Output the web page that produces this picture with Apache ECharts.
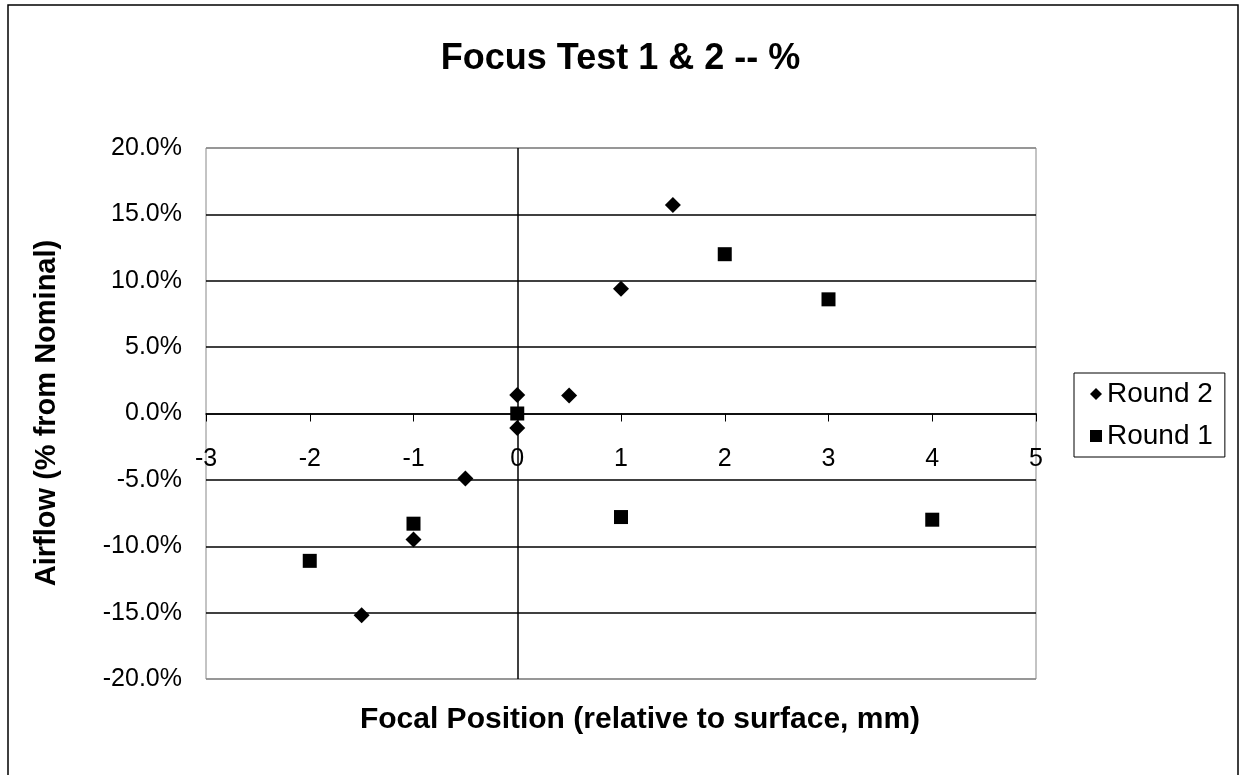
<!DOCTYPE html>
<html>
<head>
<meta charset="utf-8">
<script src="https://cdn.jsdelivr.net/npm/echarts@6/dist/echarts.min.js"></script>
<style>
  html, body { margin: 0; padding: 0; background: #fff; }
  #chart { width: 1241px; height: 775px; }
</style>
</head>
<body>
<div id="chart"></div>
<script>
// Round 2 (diamonds)
var round2X = [-1.5, -1, -0.5, 0, 0, 0.5, 1, 1.5];
var round2Y = [-15.2, -9.5, -4.9, -1.1, 1.4, 1.35, 9.4, 15.7];
// Round 1 (squares)
var round1X = [-2, -1, 0, 1, 2, 3, 4];
var round1Y = [-11.1, -8.3, 0, -7.8, 12.0, 8.6, -8.0];

var xMin = -3, xMax = 5, xStep = 1;
var yMin = -20, yMax = 20, yStep = 5;

var FONT = "'Liberation Sans', Arial, sans-serif";

// grid box in pixels
var GRID_TOP = 148, GRID_BOTTOM = 96, GRID_LEFT = 206, GRID_RIGHT = 205;
var GRID_H = 775 - GRID_TOP - GRID_BOTTOM;

function zipPts(xs, ys) {
  var out = [];
  for (var i = 0; i < xs.length; i++) out.push([xs[i], ys[i]]);
  return out;
}

// plot border lines (top/bottom) grey, inner grid lines black
var splitColors = [];
for (var v = yMin; v <= yMax; v += yStep) {
  splitColors.push(v === yMin || v === yMax ? '#888' : '#000');
}

// x axis sits on y = 0 with its labels (Excel style)
var xAxisOffset = -GRID_H * (0 - yMin) / (yMax - yMin);

var chart = echarts.init(document.getElementById('chart'));
var option = {
  backgroundColor: '#fff',
  animation: false,
  title: {
    text: 'Focus Test 1 & 2 -- %',
    left: 'center',
    top: 36,
    textStyle: { fontFamily: FONT, fontSize: 36, fontWeight: 'bold', color: '#000' }
  },
  grid: {
    left: GRID_LEFT, top: GRID_TOP, right: GRID_RIGHT, bottom: GRID_BOTTOM,
    show: true, borderColor: '#888', borderWidth: 1, backgroundColor: '#fff'
  },
  legend: {
    orient: 'vertical',
    left: 1074, top: 373,
    padding: [6, 12, 6, 16],
    itemGap: 12,
    itemWidth: 12, itemHeight: 12,
    borderColor: '#000', borderWidth: 1, borderRadius: 0,
    textStyle: { fontFamily: FONT, fontSize: 28, color: '#000', lineHeight: 30 },
    itemStyle: { opacity: 1 },
    data: [
      { name: 'Round 2', icon: 'diamond' },
      { name: 'Round 1', icon: 'rect' }
    ]
  },
  xAxis: {
    type: 'value',
    position: 'bottom',
    offset: xAxisOffset,
    min: xMin, max: xMax, interval: xStep,
    axisLine: { show: true, onZero: false, lineStyle: { color: '#000', width: 1.5 } },
    axisTick: { show: true, inside: false, length: 8, lineStyle: { color: '#000', width: 1 } },
    axisLabel: { margin: 33, fontFamily: FONT, fontSize: 25, color: '#000' },
    splitLine: { show: false }
  },
  yAxis: {
    type: 'value',
    min: yMin, max: yMax, interval: yStep,
    axisLine: { show: false, onZero: false },
    axisTick: { show: false },
    axisLabel: {
      margin: 24, fontFamily: FONT, fontSize: 25, color: '#000',
      formatter: function (v) { return v.toFixed(1) + '%'; }
    },
    splitLine: { show: true, lineStyle: { color: splitColors, width: 1.5 } }
  },
  graphic: [
    {
      type: 'rect', z: -10, silent: true,
      shape: { x: 8, y: 5, width: 1230, height: 800 },
      style: { fill: 'none', stroke: '#000', lineWidth: 1.5 }
    },
    {
      type: 'text', x: 47, y: 413, rotation: Math.PI / 2,
      style: {
        text: 'Airflow (% from Nominal)', fontFamily: FONT, fontSize: 29,
        fontWeight: 'bold', fill: '#000', align: 'center', verticalAlign: 'middle'
      }
    },
    {
      type: 'text', x: 640, y: 720,
      style: {
        text: 'Focal Position (relative to surface, mm)', fontFamily: FONT, fontSize: 30,
        fontWeight: 'bold', fill: '#000', align: 'center', verticalAlign: 'middle'
      }
    }
  ],
  series: [
    {
      name: 'Round 2',
      type: 'scatter',
      symbol: 'diamond',
      symbolSize: 16,
      itemStyle: { color: '#000', opacity: 1 },
      data: zipPts(round2X, round2Y),
      z: 5
    },
    {
      name: 'Round 1',
      type: 'scatter',
      symbol: 'rect',
      symbolSize: 14,
      itemStyle: { color: '#000', opacity: 1 },
      data: zipPts(round1X, round1Y),
      z: 4,
      // vertical axis line through x = 0
      markLine: {
        silent: true,
        symbol: 'none',
        label: { show: false },
        lineStyle: { color: '#000', width: 1.5, type: 'solid' },
        data: [{ xAxis: 0 }]
      }
    }
  ]
};
chart.setOption(option);
</script>
</body>
</html>
